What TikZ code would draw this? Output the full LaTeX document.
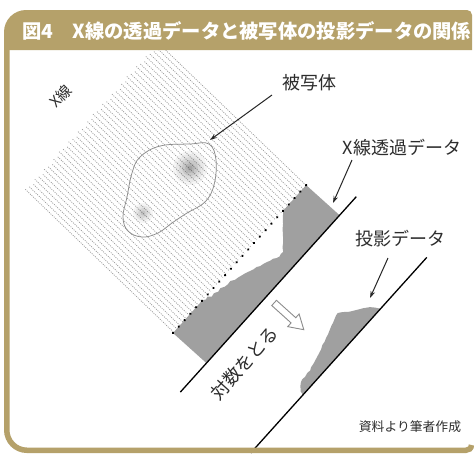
\documentclass[tikz,border=0pt]{standalone}
\usepackage{fontspec}
\newfontfamily\jp{Noto Sans CJK JP}
\usetikzlibrary{arrows.meta}
\definecolor{frame}{RGB}{181,161,106}
\definecolor{ink}{RGB}{45,45,45}
\definecolor{datagray}{RGB}{160,160,160}
\tikzset{
  hatch/.style={draw=black!40, line width=0.7pt, dash pattern=on 1pt off 1.2pt},
  detector/.style={draw=black, line width=1.3pt},
  datafill/.style={fill=datagray},
  hollowarrow/.style={draw=black!45, line width=0.9pt, fill=white, line join=miter},
  label/.style={font=\jp\fontsize{18}{18}\selectfont, text=ink, inner sep=0pt},
  pointer/.style={draw=black!85, line width=1pt, -{Stealth[length=7pt,width=4.5pt]}},
  objline/.style={draw=black!45, line width=0.75pt},
}
\begin{document}
\begin{tikzpicture}[x=1pt,y=-1pt]
\useasboundingbox (0,0) rectangle (474,456);
\fill[white] (0,0) rectangle (474,456);

% parallel rays, each running down-right at 45 degrees onto the dotted line
\foreach \k in {0,...,43} {
  \pgfmathsetmacro\uu{\k*4.6+1}
  \pgfmathsetmacro\xs{24.6+0.669*\uu+mod(\k*37,11)*0.25}
  \pgfmathsetmacro\ys{190-0.743*\uu+mod(\k*37,11)*0.25}
  \pgfmathsetmacro\xe{173+0.669*\uu}
  \pgfmathsetmacro\ye{333-0.743*\uu}
  \draw[hatch] (\xs,\ys) -- (\xe,\ye);
}

% detector lines and profiles; u runs along the detector,
% v runs along the rays towards the detector
\begin{scope}[shift={(173,333)}, rotate=48]
  % transmitted intensity
  \fill[datafill] (0,45) -- (0,0) -- (44,0) -- (47,2) -- (50,1.2) -- (53,4.5) -- (57,3.8)
    -- (61,6) -- (65,5.2) -- (69,7.5) -- (73,8.2) -- (77,7.8) -- (81,10.5) -- (85,11.3)
    -- (89,12.6) -- (93,13.8) -- (97,15.5) -- (101,17.2) -- (105,18) -- (108,20)
    -- (112,21) -- (116,22.5) -- (119,24) -- (122,24.6) -- (125,26.8) -- (128,28)
    -- (131,27.2) -- (134,27.6) -- (137,24) -- (140,22) -- (143,19.5) -- (146,16.5)
    -- (149,13.5) -- (152,10.8) -- (155,8.5) -- (158,5.5) -- (161,3) -- (163,1.5)
    -- (164,0) -- (199,0) -- (199,45) -- cycle;
  \foreach \k in {0,...,23} \fill[black] (\k*8.65,0) circle (1.3pt);
  \coordinate (det1a) at (-39,45);
  \coordinate (det1b) at (224,45);
  \draw[detector] (det1a) -- (det1b);
  % projection (logarithm of the transmission)
  \fill[datafill] (41,138) -- (42,134) -- (44,132) -- (46,130) -- (49,128) -- (52,127)
    -- (56,127.5) -- (60,126.5) -- (64,127) -- (67,125.5) -- (71,125) -- (75,124)
    -- (79,123) -- (83,122) -- (87,121) -- (91,119) -- (95,118.5) -- (99,117)
    -- (103,116) -- (107,114.5) -- (111,113) -- (115,112) -- (119,110.5) -- (122,109.5)
    -- (125,109) -- (129,112) -- (134,117) -- (140,121) -- (146,125) -- (151,129)
    -- (154,133) -- (157,138) -- cycle;
  \coordinate (det2a) at (-37,138);
  \coordinate (det2b) at (226,138);
  \draw[detector] (det2a) -- (det2b);
  % log-conversion arrow
  \draw[hollowarrow] (86.5,55) -- (93.5,55) -- (93.5,81) -- (98.5,81) -- (90,95)
    -- (81.5,81) -- (86.5,81) -- cycle;
\end{scope}

% the object with two dense inclusions
\foreach \r/\o in {17/0.04, 14/0.05, 11/0.06, 8/0.08, 5/0.09, 2.5/0.09}
  \fill[black, opacity=\o] (190,168) circle (\r pt);
\foreach \r/\o in {10/0.04, 7.5/0.06, 5/0.07, 2.5/0.08}
  \fill[black, opacity=\o] (143,213) circle (\r pt);
\draw[objline] plot[smooth cycle, tension=0.65] coordinates {
  (160,146) (190,144) (209,144) (216,160) (214,185) (205,202) (187,213)
  (172,223) (158,233) (142,237) (128,231) (123,217) (127,197) (132,173) (140,157)};

% labels
\node[label, rotate=45] (xray) at (61,96) {\fontsize{15}{15}\selectfont X線};
\node[label] (objlab) at (309,83) {被写体};
\node[label] (translab) at (402,148) {X線透過データ};
\node[label] (projlab) at (400,239) {投影データ};
\node[label, rotate=48] (loglab) at (244.5,363) {対数をとる};
\node[label, font=\jp\fontsize{12.8}{12.8}\selectfont] (src) at (410,427) {資料より筆者作成};

\coordinate (objtail) at (272,95);
\coordinate (objtip) at (210,140);
\coordinate (transtail) at (352,160);
\coordinate (transtip) at (333,203);
\coordinate (projtail) at (388,258);
\coordinate (projtip) at (370,298);
\draw[pointer] (objtail) -- (objtip);
\draw[pointer] (transtail) -- (transtip);
\draw[pointer] (projtail) -- (projtip);

% frame: title bar and left/bottom border
\fill[frame] (4,50) -- (4,32) .. controls (4,19.9) and (13.9,10) .. (26,10)
  -- (467,10) .. controls (469.8,10) and (472,12.2) .. (472,15) -- (472,50) -- cycle;
\draw[frame, line width=5.5pt] (6.75,48) -- (6.75,430)
  .. controls (6.75,441) and (15.7,450.25) .. (26.75,450.25) -- (466,450.25)
  .. controls (469,450.25) and (471.2,448.5) .. (471.5,445);
\node[anchor=west, text=white, inner sep=0pt, font=\jp\bfseries\fontsize{19.3}{19.3}\selectfont]
  (title) at (22,30.5) {図4　X線の透過データと被写体の投影データの関係};
\end{tikzpicture}
\end{document}
